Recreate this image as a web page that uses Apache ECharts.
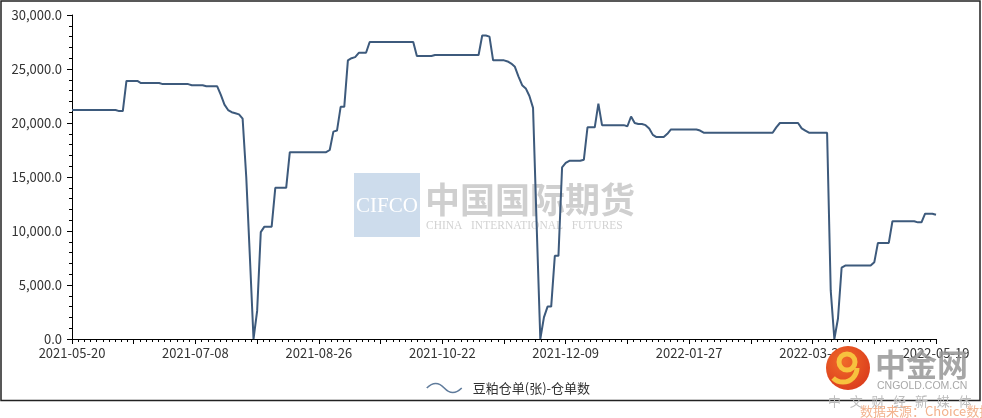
<!DOCTYPE html>
<html>
<head>
<meta charset="utf-8">
<script src="https://cdn.jsdelivr.net/npm/echarts@6/dist/echarts.min.js"></script>
<style>
html,body{margin:0;padding:0;background:#fff;}
#chart{width:982px;height:418px;}
</style>
</head>
<body>
<div id="chart"></div>
<script>
// ---- data ----
const seriesName = '豆粕仓单(张)-仓单数';
const xTickLabels = ['2021-05-20','2021-07-08','2021-08-26','2021-10-22','2021-12-09','2022-01-27','2022-03-23','2022-05-19'];
const labelStep = 34;      // data points between labelled dates
const yMin = 0, yMax = 30000, yStep = 5000;
const values = [
  21200,21200,21200,21200,21200,21200,21200,21200,21200,21200,21200,21200,21200,
  21100,21100,
  23900,23900,23900,23900,
  23700,23700,23700,23700,23700,23700,
  23600,23600,23600,23600,23600,23600,23600,23600,
  23500,23500,23500,23500,
  23400,23400,23400,23400,
  22600,21700,21200,21000,20900,20800,20400,15000,7600,0,2600,9900,
  10400,10400,10400,
  14000,14000,14000,14000,
  17300,17300,17300,17300,17300,17300,17300,17300,17300,17300,17300,
  17500,19200,19300,
  21500,21500,
  25800,26000,26100,
  26500,26500,26500,
  27500,27500,27500,27500,27500,27500,27500,27500,27500,27500,27500,27500,27500,
  26200,26200,26200,26200,26200,
  26300,26300,26300,26300,26300,26300,26300,26300,26300,26300,26300,26300,26300,
  28100,28100,28000,
  25800,25800,25800,25800,
  25700,25500,25200,24300,23500,23200,22500,21400,10500,0,2000,
  3000,3000,
  7700,7700,
  15900,16300,
  16500,16500,16500,16500,
  16600,
  19600,19600,19600,
  21800,
  19800,19800,19800,19800,19800,19800,19800,
  19700,20600,20000,
  19900,19900,
  19800,19500,18900,
  18700,18700,18700,
  19000,
  19400,19400,19400,19400,19400,19400,19400,19400,
  19300,
  19100,19100,19100,19100,19100,19100,19100,19100,19100,19100,
  19100,19100,19100,19100,19100,19100,19100,19100,19100,19100,
  19600,
  20000,20000,20000,20000,20000,20000,
  19500,19300,
  19100,19100,19100,19100,19100,19100,
  4500,0,1900,6600,
  6800,6800,6800,6800,6800,6800,6800,6800,
  7100,
  8900,8900,8900,8900,
  10900,10900,10900,10900,10900,10900,10900,
  10800,10800,
  11600,11600,11600,
  11500
];

// ---- chart ----
const font = '"Noto Sans CJK SC", "Noto Sans", sans-serif';
const lastIdx = (xTickLabels.length - 1) * labelStep;
const chart = echarts.init(document.getElementById('chart'), null, {renderer: 'canvas'});

const option = {
  animation: false,
  backgroundColor: '#ffffff',
  textStyle: {fontFamily: font},
  grid: {left: 72, right: 46, top: 15, bottom: 79, containLabel: false},
  xAxis: {
    type: 'value',
    min: 0,
    max: lastIdx,
    interval: labelStep / 2,
    axisLine: {show: true, onZero: false, lineStyle: {color: '#000', width: 1}},
    axisTick: {show: true, length: 5, lineStyle: {color: '#000'}},
    minorTick: {show: true, splitNumber: 10, length: 3, lineStyle: {color: '#000'}},
    splitLine: {show: false},
    axisLabel: {
      margin: 8,
      color: '#333',
      fontSize: 13,
      fontFamily: font,
      showMinLabel: true,
      showMaxLabel: true,
      formatter: function (v) {
        return (v % labelStep === 0) ? (xTickLabels[v / labelStep] || '') : '';
      }
    }
  },
  yAxis: {
    type: 'value',
    min: yMin,
    max: yMax,
    interval: yStep,
    axisLine: {show: true, lineStyle: {color: '#000', width: 1}},
    axisTick: {show: true, length: 5, lineStyle: {color: '#000'}},
    minorTick: {show: true, splitNumber: 5, length: 3, lineStyle: {color: '#000'}},
    splitLine: {show: false},
    axisLabel: {
      margin: 10,
      color: '#333',
      fontSize: 13,
      fontFamily: font,
      formatter: function (v) {
        return v.toLocaleString('en-US', {minimumFractionDigits: 1, maximumFractionDigits: 1});
      }
    }
  },
  legend: {
    data: [seriesName],
    left: 421,
    top: 376,
    itemWidth: 35,
    itemHeight: 10,
    icon: 'path://M0,5 C6,-1 12,-1 17.5,5 C23,11 29,11 35,5',
    itemStyle: {color: 'rgba(0,0,0,0)', borderColor: '#5f7b9b', borderWidth: 1.5},
    textStyle: {color: '#333', fontSize: 13, fontFamily: font, padding: [0, 0, 0, 6], lineHeight: 14}
  },
  graphic: [
    // outer frame
    {type: 'rect', z: 50, silent: true,
     shape: {x: 1, y: 1, width: 979, height: 399.5},
     style: {fill: null, stroke: '#222', lineWidth: 1.5}},
    // CIFCO watermark
    {type: 'rect', z: 0, silent: true,
     shape: {x: 354, y: 173, width: 66, height: 64},
     style: {fill: '#cddcec'}},
    {type: 'text', z: 0, silent: true, x: 387, y: 206,
     style: {text: 'CIFCO', fill: '#ffffff', font: '21px "Liberation Serif", serif', align: 'center', verticalAlign: 'middle'}},
    {type: 'text', z: 0, silent: true, x: 425, y: 200,
     style: {text: '中国国际期货', fill: '#cfcfcf', font: 'bold 35px "Noto Sans CJK SC", sans-serif', verticalAlign: 'middle'}},
    {type: 'text', z: 0, silent: true, x: 426, y: 226,
     style: {text: 'CHINA   INTERNATIONAL   FUTURES', fill: '#d2d2d2', font: '11.5px "Liberation Serif", serif', verticalAlign: 'middle'}},
    // cngold logo watermark
    {type: 'circle', z: 100, silent: true,
     shape: {cx: 848, cy: 368, r: 22},
     style: {fill: new echarts.graphic.RadialGradient(0.4, 0.35, 0.8, [
       {offset: 0, color: '#f06a2a'}, {offset: 1, color: '#d8361a'}])}},
    {type: 'arc', z: 101, silent: true,
     shape: {cx: 847, cy: 362, r: 8, startAngle: 0, endAngle: Math.PI * 2},
     style: {stroke: '#f7c23e', lineWidth: 5, fill: null}},
    {type: 'arc', z: 101, silent: true,
     shape: {cx: 843, cy: 368, r: 14, startAngle: 0, endAngle: Math.PI * 0.75},
     style: {stroke: '#f7c23e', lineWidth: 5, fill: null}},
    {type: 'text', z: 100, silent: true, x: 875, y: 364,
     style: {text: '中金网', fill: 'rgba(150,150,150,0.85)', font: 'bold 31px "Noto Sans CJK SC", sans-serif', verticalAlign: 'middle'}},
    {type: 'text', z: 100, silent: true, x: 877, y: 386,
     style: {text: 'CNGOLD.COM.CN', fill: '#a8a8a8', font: '10.5px "Liberation Sans", sans-serif', verticalAlign: 'middle'}},
    {type: 'text', z: 100, silent: true, x: 828, y: 401,
     style: {text: '中   文   财   经   新   媒   体', fill: '#bdbdbd', font: '13px "Noto Sans CJK SC", sans-serif', verticalAlign: 'middle'}},
    {type: 'text', z: 100, silent: true, x: 860, y: 411,
     style: {text: '数据来源：Choice数据', fill: '#f2b38e', font: '13px "Noto Sans CJK SC", sans-serif', verticalAlign: 'middle'}}
  ],
  series: [{
    name: seriesName,
    type: 'line',
    z: 5,
    showSymbol: false,
    symbol: 'none',
    smooth: false,
    lineStyle: {color: '#3d5a7c', width: 2},
    itemStyle: {color: '#3d5a7c'},
    data: values.map(function (v, i) { return [i, v]; })
  }]
};
chart.setOption(option);
</script>
</body>
</html>
